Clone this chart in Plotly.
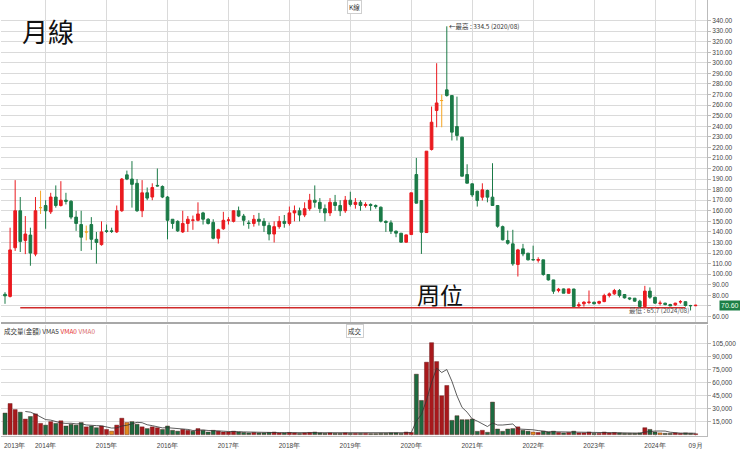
import plotly.graph_objects as go
import pandas as pd
import numpy as np

# ---------------- data ----------------
months = [p.strftime("%Y/%m") for p in pd.period_range("2013-05", "2024-09", freq="M")]

opens = [81, 79, 125, 160, 132, 137, 119, 163, 165, 159, 173, 165, 170, 169, 154, 147, 140, 147, 133, 128,
         141, 141, 140, 160, 194, 190, 186, 160, 177, 173, 184, 183, 173, 152, 150, 140, 148, 151, 151, 158,
         152, 149, 134, 143, 151, 150, 160, 155, 148.5,
         148, 152, 150, 146, 138, 145, 150, 148, 158, 160, 156, 162, 170, 168, 162, 158, 168, 165, 160, 170,
         166, 168, 165, 166, 165, 163.4, 150, 148.6, 140.7, 138.8, 130.3, 137.5, 194.3, 169.7, 139.4, 218,
         254.9, 264.3, 274.4, 269, 239.7, 229.6, 194.3, 185.5, 178.5, 172.9, 179.2, 172.9, 165, 145, 131.9,
         128.7, 109.2, 124, 119.9, 113.9, 113.2, 113.6, 99.7, 94.6, 84.5, 86.1, 82, 86, 70, 72, 73.2, 73.5,
         72.6, 74.1, 79.8, 81.4, 84.6, 80.8, 77.6, 77.3, 74.5, 69.4, 84, 78.2, 72.4, 72.6, 71.3, 71, 73.8,
         74, 70.4, 70.2]
highs = [83, 144, 189, 173, 155, 144, 173, 179, 170, 177, 184, 188, 177, 170, 160, 160, 146, 154, 140, 150,
         147, 144, 165, 191, 198, 207, 190, 189, 182, 186, 200, 184, 174, 152, 151, 160, 155, 155.5, 168, 159,
         153, 152, 143, 159, 154, 160.5, 164, 157, 151,
         156, 158, 153, 149, 150, 155, 156, 164, 165, 163, 168, 176, 184, 172, 166, 172, 175, 170, 174, 178,
         172, 170, 168, 167, 166, 164, 151, 151, 141.3, 139, 137.5, 177, 210, 170, 216.4, 258.6,
         299.6, 270, 334.5, 269, 268, 230, 204, 186, 179, 186, 180, 205, 165.5, 146, 141.3,
         142, 124, 128.7, 120, 127, 116, 113.7, 99.8, 94.7, 87, 86.5, 86.3, 86.2, 73.5, 74.5, 84.6, 74,
         75, 81.5, 82.7, 86.1, 86, 81, 78, 77.5, 75.8, 89, 87.5, 78.5, 75, 73, 72, 73, 75.5,
         74.2, 71, 71]
lows = [72, 78, 122, 121, 119, 108, 117, 157, 143, 157, 163, 164, 166, 152, 141, 122, 132, 123, 110, 127,
        139, 139, 139, 159, 189, 163, 159, 154, 170, 170, 183, 172, 133, 143, 140, 139, 140, 142, 150, 147,
        147, 133, 129, 142, 147, 149, 154, 146, 143,
        145, 146, 140, 132, 130, 143, 144, 146, 150, 150, 154, 160, 163, 158, 150, 155, 160, 155, 158, 164,
        162, 160, 163, 160, 162, 149, 140, 138, 135, 130, 130, 137.5, 167, 119.2, 139, 217,
        239, 239, 268, 226.5, 226.5, 192.7, 186, 173, 164, 169.7, 168, 165, 144, 132, 128,
        108, 97.8, 117, 113, 113, 111, 98.6, 94, 81.4, 82.8, 82, 81.5, 68.8, 68.8, 69.4, 71.6, 71.5,
        71.5, 73.5, 78, 80.5, 78, 77, 75.5, 74, 68.8, 68.8, 76.7, 72, 70.4, 70.5, 70, 70, 72,
        69.4, 65.7, 69.8]
closes = [79.5, 123, 160, 131, 138, 120, 160, 163, 160, 173, 165, 170, 169, 154, 148, 135, 140, 133, 130, 140,
          140.5, 140.5, 160, 190, 190, 185, 160, 177, 172, 182, 183.5, 173, 151, 148, 141, 148, 152, 151.3, 157, 152,
          148, 134, 142, 151, 151.3, 160, 155, 151, 148,
          152, 150, 146, 138, 145, 150, 148, 158, 160, 156, 162, 170, 168, 162, 158, 168, 165, 160, 170, 166,
          168, 165, 166, 165, 164, 150.2, 149, 140.7, 138.8, 130.3, 137.2, 177, 167.2, 139.7, 216.4, 243.8,
          262, 264.3, 269, 234.4, 231.2, 192.7, 186.1, 175, 169.7, 179.8, 172.9, 165, 145.4, 132.5, 129.3,
          109.8, 123, 119.2, 113.6, 113.6, 113.8, 99.7, 94.6, 83.9, 85.8, 82, 86.1, 69.4, 71, 73.5, 73.6, 72,
          74.1, 79.8, 81.4, 84.6, 79.8, 77.6, 76.7, 74.5, 69.4, 84, 78.2, 72.6, 72.6, 71.3, 70, 72.6, 74,
          70.4, 70.2, 70.6]
# flat (doji) months: open equals close
opens[7] = closes[7]
opens[16] = closes[16]
opens[86] = closes[86]

volumes = [25000, 36000, 29000, 26000, 18000, 21000, 24000, 13000, 11000, 15000, 13000, 16000, 10000, 12000,
           11000, 14000, 9000, 10000, 8000, 10000,
           6000, 4000, 11000, 19000, 14000, 15000, 12000, 9000, 7000, 9000, 8000, 6000, 10000, 5000, 4000,
           6000, 5000, 4000, 7000, 5000, 3000, 5000, 4000, 3000,
           3000, 4000, 3000, 2500, 2000, 2500, 2000, 2000, 2500, 3000, 2000, 2000, 2500, 2000, 1500, 2000,
           2500, 3000, 2000, 1500, 2000, 1500, 1500, 2000, 1500, 1500, 1500, 1500, 1200, 1200, 1500, 1500,
           2000, 2000, 1500, 3000,
           2500, 70000, 39600, 83900, 106500, 84600, 45000, 56900,
           16500, 21900, 17300, 17300, 18000, 3800, 5000, 2700, 37700, 6500, 3800, 6500,
           7000, 9000, 5000, 4000, 3000, 2500, 4000, 3000, 4000, 2500, 2000, 2500, 4000, 2000, 2000, 3000,
           1500, 1500, 3000, 2000, 2500, 2000, 1500, 1500, 1500, 2000, 8000, 6000, 3000, 2000, 1500, 1500,
           2000, 1500, 2000, 1500, 1000]

year_ticks = ["2014/01", "2015/01", "2016/01", "2017/01", "2018/01", "2019/01", "2020/01", "2021/01",
              "2022/01", "2023/01", "2024/01", "2024/09"]
year_labels = ["2014年", "2015年", "2016年", "2017年", "2018年", "2019年", "2020年", "2021年",
               "2022年", "2023年", "2024年", "09月"]
price_ticks = list(range(60, 350, 10))
vol_ticks = [15000, 30000, 45000, 60000, 75000, 90000, 105000]
level_price = 68.2          # 周位
level_from, level_to = "2013/08", "2024/07"
high_label = "←最高 : 334.5 (2020/08)"
low_label = "最低 : 65.7 (2024/08)"
last_price = 70.60

# ---------------- build ----------------
n = len(months)
xi = np.arange(n)
idx = {m: i for i, m in enumerate(months)}

UP = "#ea1a1f"
DN = "#1b7a47"
VUP = "#a8191c"
VDN = "#1d6a40"
GRID = "#dadada"
FONT = "Liberation Sans, Arial, sans-serif"
CJK = "Noto Sans CJK TC, sans-serif"

o = np.array(opens, float); h = np.array(highs, float); l = np.array(lows, float); c = np.array(closes, float)
flat = o == c

fig = go.Figure()
fig.add_trace(go.Candlestick(
    x=xi[~flat], open=o[~flat], high=h[~flat], low=l[~flat], close=c[~flat],
    increasing=dict(line=dict(color=UP, width=1), fillcolor=UP),
    decreasing=dict(line=dict(color=DN, width=1), fillcolor=DN),
    whiskerwidth=0, xaxis="x", yaxis="y", showlegend=False, hoverinfo="skip"))
fig.add_trace(go.Candlestick(
    x=xi[flat], open=o[flat], high=h[flat], low=l[flat], close=c[flat],
    increasing=dict(line=dict(color="#f5a623", width=1), fillcolor="#f5a623"),
    decreasing=dict(line=dict(color="#f5a623", width=1), fillcolor="#f5a623"),
    whiskerwidth=0, xaxis="x", yaxis="y", showlegend=False, hoverinfo="skip"))

# 周位 line
fig.add_trace(go.Scatter(x=[idx[level_from], idx[level_to]], y=[level_price, level_price],
                         mode="lines", line=dict(color="#d02a2a", width=1.5),
                         xaxis="x", yaxis="y", showlegend=False, hoverinfo="skip"))

# volume
vol = np.array(volumes, float)
prev = np.concatenate([[c[0]], c[:-1]])
vcol = [VUP if c[i] > prev[i] else (VDN if c[i] < prev[i] else "#e08a1e") for i in range(n)]
vcol[0] = VDN
fig.add_trace(go.Bar(x=xi, y=vol, marker=dict(color=vcol, line=dict(color="#5a1010", width=0.4)),
                     width=0.8, xaxis="x2", yaxis="y2", showlegend=False, hoverinfo="skip"))
vma = pd.Series(vol).rolling(5).mean()
fig.add_trace(go.Scatter(x=xi, y=vma, mode="lines", line=dict(color="#333333", width=0.8),
                         xaxis="x2", yaxis="y2", showlegend=False, hoverinfo="skip"))

xr = [-0.79, 138.24]
tv = [idx[m] for m in year_ticks]
common_x = dict(range=xr, tickmode="array", tickvals=tv, showgrid=True, gridcolor=GRID, gridwidth=1,
                zeroline=False, fixedrange=True)
price_text = ["" if v == 70 else f"{v:.2f}" for v in price_ticks]
fig.update_layout(
    width=740, height=451,
    margin=dict(l=1, r=33, t=0, b=15),
    paper_bgcolor="white", plot_bgcolor="white",
    font=dict(family=FONT, size=7, color="#333"),
    boxgap=0.25,
    xaxis=dict(**common_x, anchor="y", showticklabels=False, rangeslider=dict(visible=False),
               showline=True, linecolor="#a8a8a8", linewidth=2, mirror=False),
    yaxis=dict(domain=[0.2615, 1], side="right", range=[54.8, 359.4], tickmode="array",
               tickvals=price_ticks, ticktext=price_text, showgrid=True, gridcolor=GRID,
               ticks="outside", ticklen=3, tickcolor="#bbb", showline=True, linecolor="#bbb",
               tickfont=dict(size=6.5, color="#444"), zeroline=False, fixedrange=True, automargin=False),
    xaxis2=dict(**common_x, anchor="y2", ticktext=year_labels, showticklabels=True,
                tickfont=dict(size=6.5, color="#444"), ticks="", showline=True, linecolor="#bbb",
                ticklabelstandoff=3, automargin=False),
    yaxis2=dict(domain=[0, 0.2546], side="right", range=[-1600, 126960], tickmode="array",
                tickvals=vol_ticks, tickformat=",", showgrid=True, gridcolor=GRID,
                ticks="outside", ticklen=3, tickcolor="#bbb", showline=True, linecolor="#bbb",
                tickfont=dict(size=6.5, color="#444"), zeroline=False, fixedrange=True, automargin=False),
)

ann = []
ann.append(dict(text="月線", xref="paper", yref="paper", x=0.027, y=0.929, xanchor="left", yanchor="middle",
                showarrow=False, font=dict(family=CJK, size=26, color="#111")))
ann.append(dict(text="周位", xref="paper", yref="paper", x=0.586, y=0.326, xanchor="left", yanchor="middle",
                showarrow=False, font=dict(family=CJK, size=23, color="#111")))
ann.append(dict(text="K線", xref="paper", yref="paper", x=0.501, y=0.985, xanchor="center", yanchor="middle",
                showarrow=False, font=dict(family=CJK, size=6.5, color="#333"),
                bordercolor="#cfcfcf", borderwidth=1, borderpad=1, bgcolor="white"))
ann.append(dict(text="成交", xref="paper", yref="paper", x=0.501, y=0.241, xanchor="center", yanchor="middle",
                showarrow=False, font=dict(family=CJK, size=6.5, color="#333"),
                bordercolor="#cfcfcf", borderwidth=1, borderpad=1, bgcolor="white"))
ann.append(dict(text="成交量(金額) VMA5 <span style='color:#e53030'>VMA0</span> <span style='color:#d86a6a'>VMA0</span>",
                xref="paper", yref="paper", x=0.002, y=0.241, xanchor="left", yanchor="middle",
                showarrow=False, font=dict(family=CJK, size=6.5, color="#333")))
ann.append(dict(text="2013年", xref="paper", yref="paper", x=0.001, y=0, xanchor="left", yanchor="top",
                yshift=-4, showarrow=False, font=dict(family=FONT, size=6.5, color="#444")))
ann.append(dict(text=high_label, xref="x", yref="y", x=idx["2020/08"], y=334.5, xanchor="left",
                yanchor="middle", showarrow=False, font=dict(family=CJK, size=6.5, color="#333")))
ann.append(dict(text=low_label, xref="x", yref="y", x=idx["2024/08"], y=65.7, xanchor="right",
                yanchor="middle", showarrow=False, font=dict(family=CJK, size=6.5, color="#555")))
ann.append(dict(text=f"{last_price:.2f}", xref="paper", yref="y", x=1, y=last_price, xanchor="left",
                yanchor="middle", xshift=12, showarrow=False, bgcolor="#1d7f47",
                font=dict(family=FONT, size=7, color="#e8ffe8"), borderpad=1))
fig.update_layout(annotations=ann)

fig.write_html("out.html", config={"displayModeBar": False},
               post_script="document.body.style.margin='0';document.body.style.padding='0';"
                           "document.body.style.overflow='hidden';")
